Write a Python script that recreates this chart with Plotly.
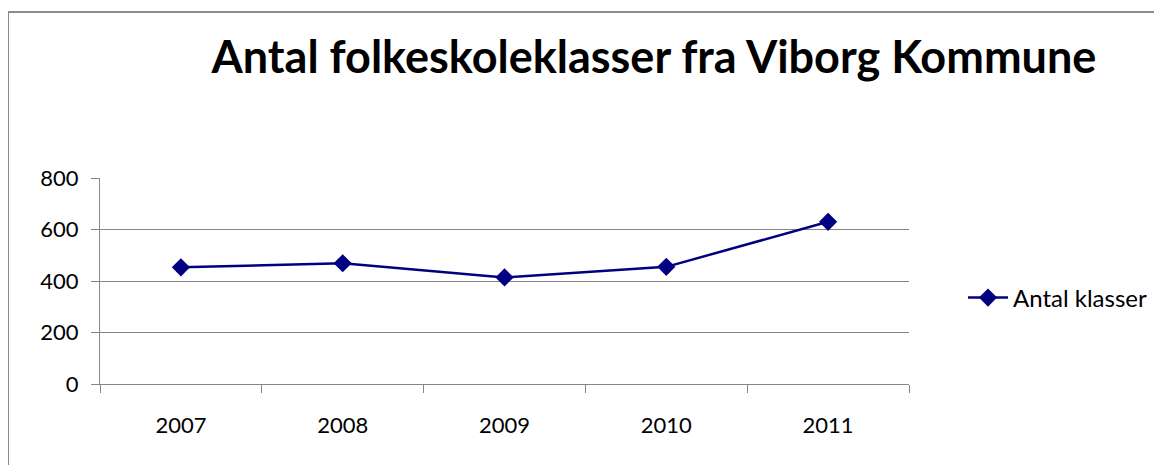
import plotly.graph_objects as go

years = ["2007", "2008", "2009", "2010", "2011"]
antal_klasser = [453, 469, 414, 455, 630]
series_name = "Antal klasser"
title_text = "Antal folkeskoleklasser fra Viborg Kommune"

navy = "#000080"
grid = "#868686"
font_family = "Lato, Carlito, Calibri, sans-serif"

fig = go.Figure()
fig.add_trace(go.Scatter(
    x=years, y=antal_klasser, name=series_name, mode="lines+markers",
    line=dict(color=navy, width=2.5),
    marker=dict(symbol="diamond", size=14, color=navy),
))

# page has an 8px body margin; figure coordinates = page coordinates - 8
O = 8
W, H = 1162 - O, 465 - O
L, R, T, B = 100 - O, 909 - O, 178 - O, 384 - O

def px(xp):
    return (xp - O - L) / (R - L)

def py(yp):
    return (B - (yp - O)) / (B - T)

fig.update_layout(
    width=W, height=H,
    margin=dict(l=L, r=W - R, t=T, b=H - B, pad=0, autoexpand=False),
    paper_bgcolor="white", plot_bgcolor="white",
    font=dict(family=font_family, size=22, color="#000000"),
    title=dict(text="<b>" + title_text + "</b>", x=(654 - O) / W, xanchor="center",
               y=1 - (57 - O) / H, yanchor="middle",
               font=dict(family=font_family, size=45, color="#000000")),
    showlegend=True,
    legend=dict(x=px(963), xanchor="left", y=py(298), yanchor="middle",
                font=dict(family=font_family, size=24, color="#000000"),
                bgcolor="rgba(0,0,0,0)", itemwidth=40),
    xaxis=dict(type="category", tickson="boundaries", ticks="outside", ticklen=8,
               tickcolor=grid, showline=True, linecolor=grid, linewidth=1,
               showgrid=False, range=[-0.5, 4.5], tickfont=dict(size=22),
               ticklabelstandoff=22, automargin=False),
    yaxis=dict(range=[0, 800], dtick=200, ticks="outside", ticklen=8, tickcolor=grid,
               showline=True, linecolor=grid, linewidth=1, showgrid=True,
               gridcolor=grid, gridwidth=1, zeroline=False, tickfont=dict(size=22),
               ticklabelstandoff=8, automargin=False),
)

# outer chart frame (left and top edges visible)
frame = dict(color="#8c8c8c", width=2)
fig.add_shape(type="line", xref="paper", yref="paper",
              x0=px(8), x1=px(8), y0=py(12), y1=py(480), line=frame)
fig.add_shape(type="line", xref="paper", yref="paper",
              x0=px(8), x1=px(1200), y0=py(12), y1=py(12), line=frame)

fig.write_html("out.html")
